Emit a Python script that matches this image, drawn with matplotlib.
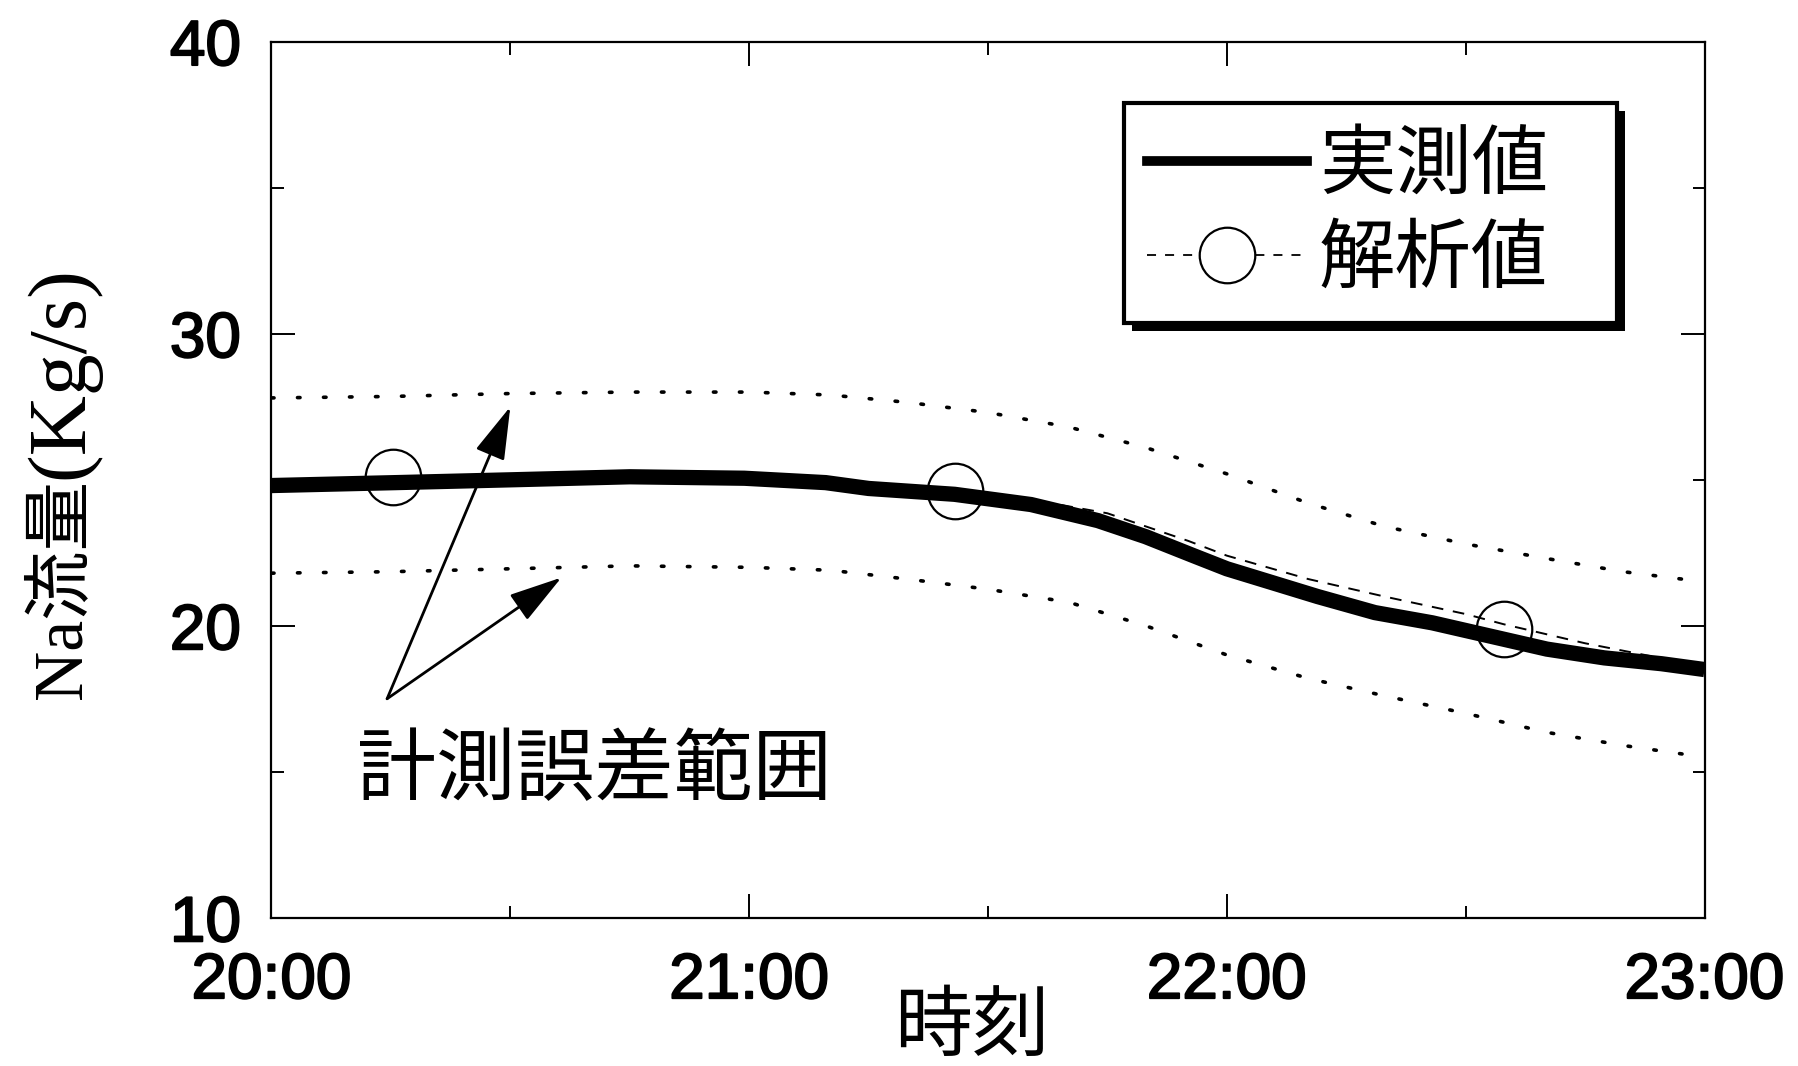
import numpy as np
import matplotlib
matplotlib.use('Agg')
import matplotlib.pyplot as plt
from matplotlib.lines import Line2D
from matplotlib import patheffects as pe
from matplotlib.ticker import MultipleLocator

plt.rcParams['font.family'] = ['Liberation Sans', 'Noto Sans CJK JP']

# measured flow (hours, kg/s)
meas_t = [20.0, 20.26, 20.51, 20.75, 20.99, 21.16, 21.25, 21.43, 21.59, 21.73,
          21.83, 21.93, 22.0, 22.07, 22.19, 22.31, 22.43, 22.55, 22.67, 22.79,
          22.91, 23.0]
meas_v = [24.8, 24.9, 25.0, 25.1, 25.05, 24.9, 24.7, 24.5, 24.15, 23.6,
          23.05, 22.4, 21.95, 21.6, 21.0, 20.45, 20.1, 19.65, 19.2, 18.9,
          18.7, 18.5]

# analysis (dashed line + markers)
calc_t = [20.0, 20.25, 20.5, 20.75, 21.0, 21.17, 21.33, 21.43, 21.58, 21.75,
          21.92, 22.0, 22.17, 22.33, 22.5, 22.58, 22.75, 23.0]
calc_v = [24.9, 25.0, 25.05, 25.1, 25.1, 25.0, 24.75, 24.6, 24.35, 23.85,
          22.9, 22.4, 21.6, 21.0, 20.4, 20.05, 19.4, 18.6]
mark_t = [20.255, 21.43, 22.58]
mark_v = [25.1, 24.6, 19.9]

# measurement error band
band_t = [20.0, 20.25, 20.5, 20.75, 21.0, 21.17, 21.33, 21.5, 21.67, 21.83,
          22.0, 22.17, 22.33, 22.5, 22.67, 22.83, 23.0]
band_hi = [27.8, 27.85, 27.95, 28.0, 28.0, 27.9, 27.65, 27.3, 26.8, 26.1,
           25.2, 24.2, 23.4, 22.8, 22.3, 21.85, 21.5]
band_lo = [21.8, 21.85, 21.95, 22.05, 22.0, 21.9, 21.6, 21.25, 20.8, 20.0,
           19.0, 18.2, 17.6, 17.0, 16.35, 15.9, 15.5]

x_ticks = [20, 21, 22, 23]
x_labels = ['20:00', '21:00', '22:00', '23:00']
y_ticks = [10, 20, 30, 40]

fig = plt.figure(figsize=(17.98, 10.66), dpi=100)
ax = fig.add_axes([0.151, 0.139, 0.797, 0.822])

ax.plot(band_t, band_hi, color='k', lw=2.6, linestyle=(0, (0.7, 6.5)), dash_capstyle='round')
ax.plot(band_t, band_lo, color='k', lw=2.6, linestyle=(0, (0.7, 6.5)), dash_capstyle='round')
ax.plot(calc_t, calc_v, color='k', lw=1.4, linestyle=(0, (6, 5)))
ax.plot(meas_t, meas_v, color='k', lw=11, solid_capstyle='butt')
ax.plot(mark_t, mark_v, 'o', ms=40, mfc='none', mec='k', mew=1.6)

ax.set_xlim(20, 23)
ax.set_ylim(10, 40)
ax.set_xticks(x_ticks)
ax.set_xticklabels(x_labels)
ax.set_yticks(y_ticks)
ax.set_yticklabels([str(v) for v in y_ticks])
# thicken regular glyphs a little, like the scanned original
for lab in ax.get_xticklabels() + ax.get_yticklabels():
    lab.set_path_effects([pe.withStroke(linewidth=1.4, foreground='k')])
ax.xaxis.set_minor_locator(MultipleLocator(0.5))
ax.yaxis.set_minor_locator(MultipleLocator(5))
ax.tick_params(which='both', direction='in', top=True, right=True, width=1.4)
ax.tick_params(which='major', length=17, labelsize=46)
ax.tick_params(which='minor', length=9)
ax.tick_params(axis='y', pad=22)
ax.tick_params(axis='x', pad=24)
for s in ax.spines.values():
    s.set_linewidth(1.6)

ax.set_xlabel('時刻', fontsize=56, family=['Noto Sans CJK JP'])
ax.xaxis.set_label_coords(0.489, -0.080)

# y label: CJK part and larger serif unit part stacked
t1 = fig.text(0.035, 0.344, 'Na流量', rotation=90, ha='center', va='bottom',
              fontsize=50, family=['Liberation Serif', 'Noto Sans CJK JP'])
fig.canvas.draw()
bb = t1.get_window_extent()
fig.text(0.035, bb.y1 / fig.bbox.height, '(Kg/s)', rotation=90, ha='center', va='bottom',
         fontsize=60, family=['Liberation Serif'])

# error range annotation
ax.text(20.18, 15.0, '計測誤差範囲', fontsize=57, ha='left', va='center',
        family=['Noto Sans CJK JP'])
for hx, hy in [(20.50, 27.5), (20.607, 21.65)]:
    ax.annotate('', xy=(hx, hy), xytext=(20.242, 17.5),
                arrowprops=dict(arrowstyle='-|>,head_length=0.55,head_width=0.16',
                                color='k', lw=2, mutation_scale=60,
                                shrinkA=0, shrinkB=0))

handles = [Line2D([], [], color='k', lw=7),
           Line2D([], [], color='k', lw=1.3, linestyle=(0, (5, 5)),
                  marker='o', ms=40, mfc='white', mec='k', mew=1.6)]
leg = ax.legend(handles, ['実測値', '解析値'], loc='upper left',
                bbox_to_anchor=(0.595, 0.668, 0.344, 0.262), mode='expand',
                borderaxespad=0, fancybox=False, framealpha=1, edgecolor='k',
                handlelength=2.1, handletextpad=0.15, borderpad=0.3,
                labelspacing=0.2, prop={'family': ['Noto Sans CJK JP'], 'size': 55})
leg.get_frame().set_linewidth(3)
leg.get_frame().set_path_effects([pe.SimplePatchShadow(offset=(6, -6), shadow_rgbFace='k', alpha=1),
                                  pe.Normal()])

fig.savefig('out.png', dpi=100)
